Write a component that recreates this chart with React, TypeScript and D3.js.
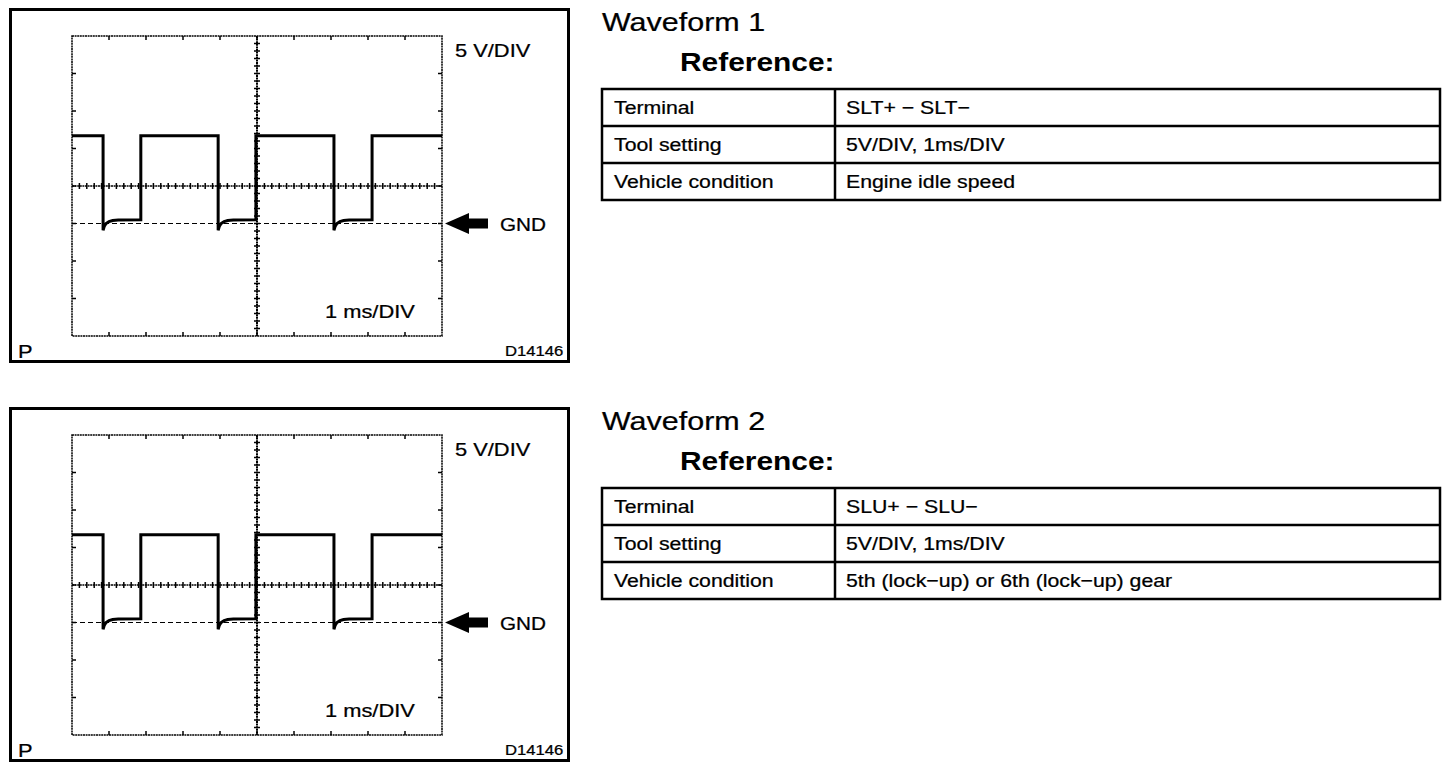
import React from "react"
import * as d3 from "d3"

// trace: time in ms (1 ms/DIV), volts (5 V/DIV)
const trace1Time = [0, 0.84, 0.84, 0.87, 0.92, 1.0, 1.1, 1.25, 1.86, 1.86, 3.95, 3.95, 3.98, 4.03, 4.11, 4.21, 4.36, 4.97, 4.97, 7.08, 7.08, 7.11, 7.16, 7.24, 7.34, 7.49, 8.11, 8.11, 10]
const trace1Volts = [11.7, 11.7, -0.9, -0.4, 0.0, 0.25, 0.4, 0.47, 0.5, 11.7, 11.7, -0.9, -0.4, 0.0, 0.25, 0.4, 0.47, 0.5, 11.7, 11.7, -0.9, -0.4, 0.0, 0.25, 0.4, 0.47, 0.5, 11.7, 11.7]

const trace2Time = [0, 0.84, 0.84, 0.87, 0.92, 1.0, 1.1, 1.25, 1.86, 1.86, 3.95, 3.95, 3.98, 4.03, 4.11, 4.21, 4.36, 4.97, 4.97, 7.08, 7.08, 7.11, 7.16, 7.24, 7.34, 7.49, 8.11, 8.11, 10]
const trace2Volts = [11.7, 11.7, -0.9, -0.4, 0.0, 0.25, 0.4, 0.47, 0.5, 11.7, 11.7, -0.9, -0.4, 0.0, 0.25, 0.4, 0.47, 0.5, 11.7, 11.7, -0.9, -0.4, 0.0, 0.25, 0.4, 0.47, 0.5, 11.7, 11.7]

const table1Labels = ["Terminal", "Tool setting", "Vehicle condition"]
const table1Values = ["SLT+ \u2212 SLT\u2212", "5V/DIV, 1ms/DIV", "Engine idle speed"]
const table2Labels = ["Terminal", "Tool setting", "Vehicle condition"]
const table2Values = ["SLU+ \u2212 SLU\u2212", "5V/DIV, 1ms/DIV", "5th (lock\u2212up) or 6th (lock\u2212up) gear"]

const FONT = "'Liberation Sans', Arial, Helvetica, sans-serif"
const SX = 1.15 // the scan is stretched a little sideways

const Label = ({ x, y, size, children, bold = false, anchor = "start" }: any) => (
  <text
    transform={`translate(${x},${y}) scale(${SX},1)`}
    fontFamily={FONT}
    fontSize={size}
    fontWeight={bold ? "bold" : "normal"}
    textAnchor={anchor}
    fill="#000"
    stroke="#000"
    strokeWidth={bold ? 0 : 0.25}
  >
    {children}
  </text>
)

const x = d3.scaleLinear().domain([0, 10]).range([72, 442])
const y = d3.scaleLinear().domain([-15, 25]).range([336, 36])

const Scope = ({ top, time, volts }: { top: number; time: number[]; volts: number[] }) => {
  const pts = time.map((t, i) => [t, volts[i]] as [number, number])
  const line = d3
    .line<[number, number]>()
    .x((d) => x(d[0]))
    .y((d) => y(d[1]))
  const majorX = d3.range(1, 10)
  const majorY = d3.range(-10, 25, 5)
  const minorX = d3.range(0.2, 10, 0.2)
  const minorY = d3.range(-14, 25, 1)
  const gnd = y(0)
  const [x0, x1] = x.range()
  const [y1, y0] = y.range()
  return (
    <g transform={`translate(0,${top})`}>
      <rect x={10.5} y={9.5} width={558} height={352} fill="none" stroke="#000" strokeWidth={3} />
      {/* graticule frame */}
      <rect x={x0} y={y0} width={x1 - x0} height={y1 - y0} fill="none" stroke="#000" strokeWidth={1.5} strokeDasharray="2,0.6" />
      {majorX.map((t) => (
        <g key={"mx" + t}>
          <line x1={x(t)} x2={x(t)} y1={y0} y2={y0 + 4} stroke="#000" strokeWidth={1.5} />
          <line x1={x(t)} x2={x(t)} y1={y1} y2={y1 - 4} stroke="#000" strokeWidth={1.5} />
        </g>
      ))}
      {majorY.map((v) => (
        <g key={"my" + v}>
          <line x1={x0} x2={x0 + 4} y1={y(v)} y2={y(v)} stroke="#000" strokeWidth={1.5} />
          <line x1={x1} x2={x1 - 4} y1={y(v)} y2={y(v)} stroke="#000" strokeWidth={1.5} />
        </g>
      ))}
      {/* centre cross with minor ticks */}
      <line x1={x0} x2={x1} y1={y(5)} y2={y(5)} stroke="#000" strokeWidth={1.5} strokeDasharray="2,0.6" />
      <line x1={x(5)} x2={x(5)} y1={y0} y2={y1} stroke="#000" strokeWidth={2} strokeDasharray="2,0.6" />
      {minorX.map((t) => (
        <line key={"nx" + t} x1={x(t)} x2={x(t)} y1={y(5) - 3} y2={y(5) + 3} stroke="#000" strokeWidth={1.5} />
      ))}
      {minorY.map((v) => (
        <line key={"ny" + v} x1={x(5) - 3} x2={x(5) + 3} y1={y(v)} y2={y(v)} stroke="#000" strokeWidth={1.5} />
      ))}
      {/* ground reference */}
      <line x1={x0} x2={x1} y1={gnd} y2={gnd} stroke="#000" strokeWidth={1.2} strokeDasharray="5,3" />
      <path
        d={`M${x1 + 3},${gnd} L${x1 + 27},${gnd - 10.5} L${x1 + 27},${gnd - 5} L${x1 + 46},${gnd - 5} L${x1 + 46},${gnd + 5} L${x1 + 27},${gnd + 5} L${x1 + 27},${gnd + 10.5} Z`}
        fill="#000"
      />
      <Label x={500} y={gnd + 7} size={18}>GND</Label>
      <path d={line(pts) || ""} fill="none" stroke="#000" strokeWidth={3} strokeLinejoin="miter" />
      <Label x={455} y={57} size={19}>5 V/DIV</Label>
      <Label x={325} y={318} size={19}>1 ms/DIV</Label>
      <Label x={18} y={358} size={19}>P</Label>
      <Label x={505} y={356} size={14.5}>D14146</Label>
    </g>
  )
}

const InfoTable = ({ top, title, labels, values }: { top: number; title: string; labels: string[]; values: string[] }) => {
  const rows = d3.scaleBand().domain(labels).range([89, 200])
  const left = 602
  const mid = 835
  const right = 1440
  return (
    <g transform={`translate(0,${top})`}>
      <Label x={602} y={31} size={26.5}>{title}</Label>
      <Label x={680} y={71} size={26} bold>Reference:</Label>
      <rect x={left} y={89} width={right - left} height={111} fill="none" stroke="#000" strokeWidth={2.5} />
      <line x1={mid} x2={mid} y1={89} y2={200} stroke="#000" strokeWidth={2.5} />
      {labels.map((l, i) => (
        <g key={l}>
          {i > 0 && <line x1={left} x2={right} y1={rows(l)} y2={rows(l)} stroke="#000" strokeWidth={2.5} />}
          <Label x={614} y={(rows(l) || 0) + rows.bandwidth() / 2 + 6.5} size={18.5}>{l}</Label>
          <Label x={846} y={(rows(l) || 0) + rows.bandwidth() / 2 + 6.5} size={18.5}>{values[i]}</Label>
        </g>
      ))}
    </g>
  )
}

export default function App() {
  return (
    <svg width={1456} height={768} style={{ position: "absolute", left: 0, top: 0, background: "#fff" }}>
      <rect width={1456} height={768} fill="#fff" />
      <Scope top={0} time={trace1Time} volts={trace1Volts} />
      <Scope top={399} time={trace2Time} volts={trace2Volts} />
      <InfoTable top={0} title="Waveform 1" labels={table1Labels} values={table1Values} />
      <InfoTable top={399} title="Waveform 2" labels={table2Labels} values={table2Values} />
    </svg>
  )
}
